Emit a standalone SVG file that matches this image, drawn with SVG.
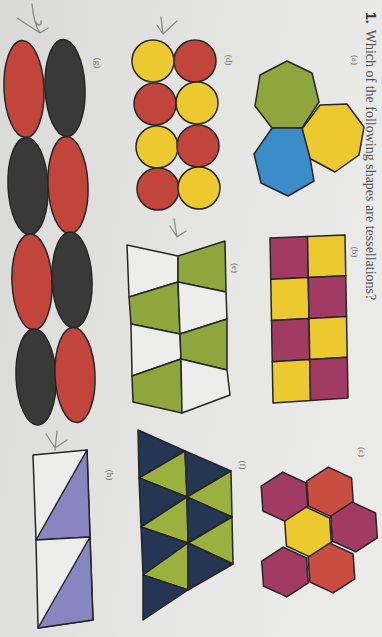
<svg xmlns="http://www.w3.org/2000/svg" width="382" height="637" viewBox="0 0 382 637">
<defs>
<linearGradient id="paper" x1="0" y1="0" x2="1" y2="0.3">
<stop offset="0" stop-color="#d9d9d7"/>
<stop offset="0.6" stop-color="#e5e5e3"/>
<stop offset="1" stop-color="#eaeae8"/>
</linearGradient>
<polygon id="hex" points="0,-25 22.5,-12.5 22.5,12.5 0,25 -22.5,12.5 -22.5,-12.5"/>
</defs>
<style>
.s{stroke:#262626;stroke-width:1.5;stroke-linejoin:round}
.red{fill:#c2453b}.blk{fill:#3a3939}.yel{fill:#ebc92f}.grn{fill:#8fa63d}.blu{fill:#3b8dca}
.mag{fill:#a13b63}.hred{fill:#c94d40}.nav{fill:#253554}.tgr{fill:#9ab23d}.lav{fill:#8985c1}.wht{fill:#ededeb}
.lbl{font-family:"Liberation Serif",serif;font-size:9px;fill:#6a6a6a;text-anchor:middle}
.q{font-family:"Liberation Serif",serif;font-size:14px;fill:#555555}
.pen{fill:none;stroke:#8a8a8a;stroke-width:1.3;stroke-linecap:round;stroke-linejoin:round}
</style>
<rect width="382" height="637" fill="url(#paper)"/>

<text class="q" transform="translate(366,12) rotate(90)"><tspan font-weight="bold" font-family="Liberation Sans, sans-serif" fill="#333333">1.</tspan><tspan dx="6">Which of the following shapes are tessellations?</tspan></text>

<g id="shape-a">
<polygon class="s grn" points="287,61 312,73 319,102 302,128 272,128 255,106 260,75"/>
<polygon class="s yel" points="302,129 320,105 347,104 364,127 359,155 335,172 309,158"/>
<polygon class="s blu" points="272,128 302,128 310,158 314,181 288,196 261,183 254,154"/>
<text class="lbl" transform="translate(352,60) rotate(90)">(a)</text>
</g>

<g id="shape-b">
<polygon class="s mag" points="270,238 307.5,236.5 308.25,277.5 270.75,279.25"/>
<polygon class="s yel" points="307.5,236.5 345,235 345.75,275.75 308.25,277.5"/>
<polygon class="s yel" points="270.75,279.25 308.25,277.5 309,318.5 271.5,320.5"/>
<polygon class="s mag" points="308.25,277.5 345.75,275.75 346.5,316.5 309,318.5"/>
<polygon class="s mag" points="271.5,320.5 309,318.5 309.75,359.5 272.25,361.75"/>
<polygon class="s yel" points="309,318.5 346.5,316.5 347.25,357.25 309.75,359.5"/>
<polygon class="s yel" points="272.25,361.75 309.75,359.5 310.5,400.5 273,403"/>
<polygon class="s mag" points="309.75,359.5 347.25,357.25 348,398 310.5,400.5"/>
<text class="lbl" transform="translate(352,252) rotate(90)">(b)</text>
</g>

<g id="shape-c">
<use href="#hex" class="s mag" transform="translate(284.5,497) rotate(-4)"/>
<use href="#hex" class="s hred" transform="translate(330,492) rotate(-4)"/>
<use href="#hex" class="s yel" transform="translate(308,532) rotate(-4)"/>
<use href="#hex" class="s mag" transform="translate(354,527) rotate(-4)"/>
<use href="#hex" class="s mag" transform="translate(285,572) rotate(-4)"/>
<use href="#hex" class="s hred" transform="translate(331.5,568) rotate(-4)"/>
<text class="lbl" transform="translate(359,452) rotate(90)">(c)</text>
</g>

<g id="shape-d">
<circle class="s yel" cx="153" cy="61" r="21"/>
<circle class="s red" cx="195" cy="61" r="21"/>
<circle class="s red" cx="155" cy="104" r="21"/>
<circle class="s yel" cx="197" cy="103" r="21"/>
<circle class="s yel" cx="157" cy="147" r="21"/>
<circle class="s red" cx="198" cy="146" r="21"/>
<circle class="s red" cx="158" cy="189" r="21"/>
<circle class="s yel" cx="199" cy="188" r="21"/>
<text class="lbl" transform="translate(226,60) rotate(90)">(d)</text>
</g>

<g id="shape-e">
<polygon class="s wht" points="127,245 178,256 178,282 129,297"/>
<polygon class="s grn" points="129,297 178,282 180,334 131,324"/>
<polygon class="s wht" points="131,324 180,334 181,359 132,376"/>
<polygon class="s grn" points="132,376 181,359 182,413 133,402"/>
<polygon class="s grn" points="178,256 225,241 226,292 178,282"/>
<polygon class="s wht" points="178,282 226,292 227,319 180,334"/>
<polygon class="s grn" points="180,334 227,319 227,370 181,359"/>
<polygon class="s wht" points="181,359 227,370 230,395 182,413"/>
<text class="lbl" transform="translate(232,268) rotate(90)">(e)</text>
</g>

<g id="shape-f">
<polygon class="s nav" points="138,430 185,451 139,478"/>
<polygon class="s tgr" points="185,451 139,478 187,497"/>
<polygon class="s nav" points="139,478 187,497 141,527"/>
<polygon class="s tgr" points="187,497 141,527 188,543"/>
<polygon class="s nav" points="141,527 188,543 143,575"/>
<polygon class="s tgr" points="188,543 143,575 188,590"/>
<polygon class="s nav" points="143,575 188,590 143,620"/>
<polygon class="s nav" points="185,451 231,471 187,497"/>
<polygon class="s tgr" points="231,471 187,497 232,517"/>
<polygon class="s nav" points="187,497 232,517 188,543"/>
<polygon class="s tgr" points="232,517 188,543 233,564"/>
<polygon class="s nav" points="188,543 233,564 188,590"/>
<text class="lbl" transform="translate(240,465) rotate(90)">(f)</text>
</g>

<g id="shape-g">
<ellipse class="s red" cx="24" cy="89" rx="20" ry="48.5" transform="rotate(-2.4 24 89)"/>
<ellipse class="s blk" cx="65" cy="88" rx="20" ry="48.5" transform="rotate(-2.4 65 88)"/>
<ellipse class="s blk" cx="28" cy="186" rx="20" ry="48.5" transform="rotate(-2.4 28 186)"/>
<ellipse class="s red" cx="68" cy="185" rx="20" ry="48.5" transform="rotate(-2.4 68 185)"/>
<ellipse class="s red" cx="32" cy="282" rx="20" ry="48" transform="rotate(-2.4 32 282)"/>
<ellipse class="s blk" cx="72" cy="280" rx="20" ry="48" transform="rotate(-2.4 72 280)"/>
<ellipse class="s blk" cx="36" cy="377" rx="20" ry="48" transform="rotate(-2.4 36 377)"/>
<ellipse class="s red" cx="75" cy="375" rx="20" ry="47.5" transform="rotate(-2.4 75 375)"/>
<text class="lbl" transform="translate(95,63) rotate(90)">(g)</text>
</g>

<g id="shape-h">
<polygon class="s wht" points="33,455 87,450 90,537 36,540"/>
<polygon class="s lav" points="87,450 90,537 36,540"/>
<polygon class="s wht" points="36,540 90,537 93,620 38,628"/>
<polygon class="s lav" points="90,537 93,620 38,628"/>
<text class="lbl" transform="translate(107,475) rotate(90)">(h)</text>
</g>

<g id="connectors">
<path class="pen" d="M17,18 L40,33 L48,28 M32,4 C33,14 35,26 40,33 M36,22 C38,27 42,25 41,21"/>
<path class="pen" d="M157,25 L163,34 L177,21 M161,17 L163,34"/>
<path class="pen" d="M170,226 L177,237 L186,231 M174,219 L177,237"/>
<path class="pen" d="M46,434 L55,448 L67,440 M57,431 L55,450"/>
</g>
</svg>
